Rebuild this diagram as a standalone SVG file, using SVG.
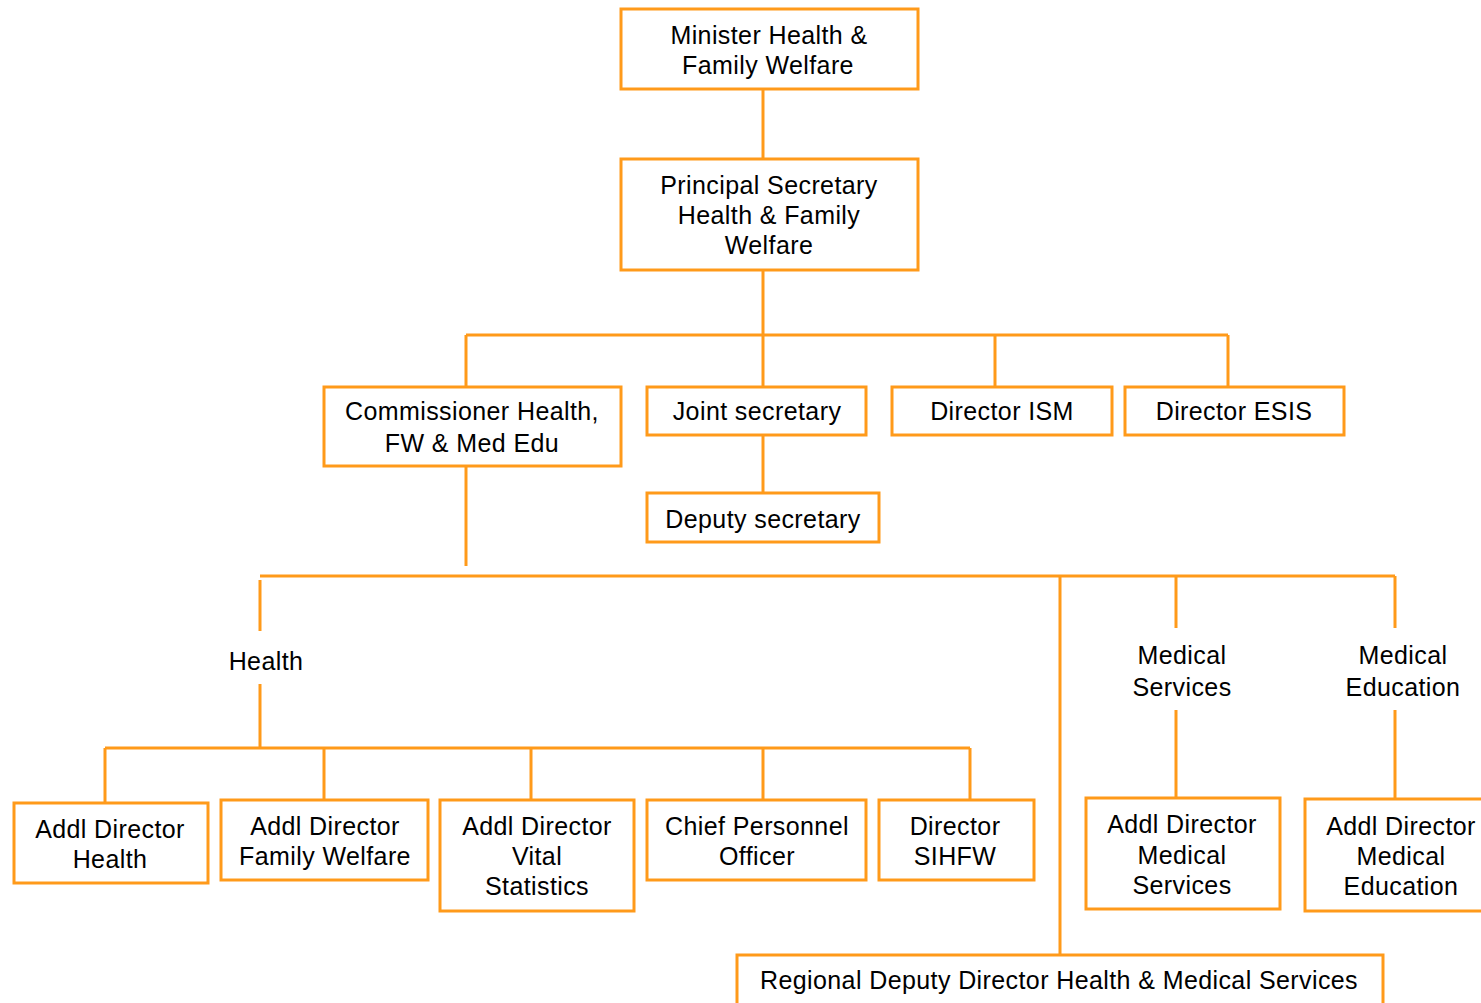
<svg xmlns="http://www.w3.org/2000/svg" width="1481" height="1003" viewBox="0 0 1481 1003">
  <style>
    .box { fill: #ffffff; stroke: #ff9a1a; stroke-width: 3; }
    .wire { fill: none; stroke: #ff9a1a; stroke-width: 3; }
    text { font-family: "Liberation Sans", Arial, sans-serif; font-size: 25px; letter-spacing: 0.4px; fill: #000000; text-anchor: middle; }
  </style>
  <rect width="1481" height="1003" fill="#ffffff"/>

  <g id="connectors">
    <path class="wire" d="M763 89 V159"/>
    <path class="wire" d="M763 270 V335 M466 335 H1228 M466 335 V387 M763 335 V387 M995 335 V387 M1228 335 V387"/>
    <path class="wire" d="M763 435 V493"/>
    <path class="wire" d="M466 466 V566"/>
    <path class="wire" d="M260 576 H1395"/>
    <path class="wire" d="M260 580 V631 M260 684 V748"/>
    <path class="wire" d="M1060 576 V955"/>
    <path class="wire" d="M1176 576 V628 M1176 710 V798"/>
    <path class="wire" d="M1395 576 V628 M1395 710 V799"/>
    <path class="wire" d="M105 748 H970 M105 748 V803 M324 748 V800 M531 748 V800 M763 748 V800 M970 748 V800"/>
  </g>

  <g id="minister">
    <rect class="box" x="621" y="9" width="297" height="80"/>
    <text x="769" y="44">Minister Health &amp;</text>
    <text x="768" y="74">Family Welfare</text>
  </g>

  <g id="principal-secretary">
    <rect class="box" x="621" y="159" width="297" height="111"/>
    <text x="769" y="194">Principal Secretary</text>
    <text x="769" y="224">Health &amp; Family</text>
    <text x="769" y="254">Welfare</text>
  </g>

  <g id="commissioner">
    <rect class="box" x="324" y="387" width="297" height="79"/>
    <text x="472" y="420">Commissioner Health,</text>
    <text x="472" y="452">FW &amp; Med Edu</text>
  </g>

  <g id="joint-secretary">
    <rect class="box" x="647" y="387" width="219" height="48"/>
    <text x="757" y="420">Joint secretary</text>
  </g>

  <g id="director-ism">
    <rect class="box" x="892" y="387" width="220" height="48"/>
    <text x="1002" y="420">Director ISM</text>
  </g>

  <g id="director-esis">
    <rect class="box" x="1125" y="387" width="219" height="48"/>
    <text x="1234" y="420">Director ESIS</text>
  </g>

  <g id="deputy-secretary">
    <rect class="box" x="647" y="493" width="232" height="49"/>
    <text x="763" y="528">Deputy secretary</text>
  </g>

  <g id="label-health">
    <text x="266" y="670">Health</text>
  </g>

  <g id="label-medical-services">
    <text x="1182" y="664">Medical</text>
    <text x="1182" y="696">Services</text>
  </g>

  <g id="label-medical-education">
    <text x="1403" y="664">Medical</text>
    <text x="1403" y="696">Education</text>
  </g>

  <g id="addl-director-health">
    <rect class="box" x="14" y="803" width="194" height="80"/>
    <text x="110" y="838">Addl Director</text>
    <text x="110" y="868">Health</text>
  </g>

  <g id="addl-director-family-welfare">
    <rect class="box" x="221" y="800" width="207" height="80"/>
    <text x="325" y="835">Addl Director</text>
    <text x="325" y="865">Family Welfare</text>
  </g>

  <g id="addl-director-vital-statistics">
    <rect class="box" x="440" y="800" width="194" height="111"/>
    <text x="537" y="835">Addl Director</text>
    <text x="537" y="865">Vital</text>
    <text x="537" y="895">Statistics</text>
  </g>

  <g id="chief-personnel-officer">
    <rect class="box" x="647" y="800" width="219" height="80"/>
    <text x="757" y="835">Chief Personnel</text>
    <text x="757" y="865">Officer</text>
  </g>

  <g id="director-sihfw">
    <rect class="box" x="879" y="800" width="155" height="80"/>
    <text x="955" y="835">Director</text>
    <text x="955" y="865">SIHFW</text>
  </g>

  <g id="addl-director-medical-services">
    <rect class="box" x="1086" y="798" width="194" height="111"/>
    <text x="1182" y="833">Addl Director</text>
    <text x="1182" y="864">Medical</text>
    <text x="1182" y="894">Services</text>
  </g>

  <g id="addl-director-medical-education">
    <rect class="box" x="1305" y="799" width="190" height="112"/>
    <text x="1401" y="835">Addl Director</text>
    <text x="1401" y="865">Medical</text>
    <text x="1401" y="895">Education</text>
  </g>

  <g id="regional-deputy-director">
    <rect class="box" x="737" y="955" width="646" height="60"/>
    <text x="1059" y="989">Regional Deputy Director Health &amp; Medical Services</text>
  </g>
</svg>
